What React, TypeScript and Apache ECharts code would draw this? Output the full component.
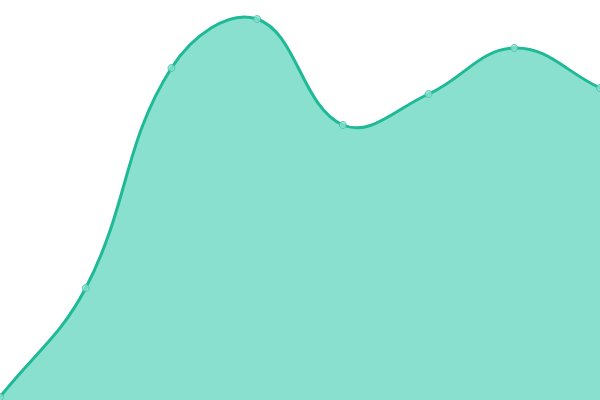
import React, { useEffect, useRef } from 'react';
import * as echarts from 'echarts';

const categories = ['A', 'B', 'C', 'D', 'E', 'F', 'G', 'H'];
const values = [3, 112, 332, 381, 275, 306, 352, 312];

const LINE_COLOR = '#1fb996';
const AREA_COLOR = '#89e0cf';
const TENSION = 0.4;

// spline through the points (control points not clamped, so the curve may overshoot)
function buildPaths(pts: number[][], bottom: number) {
  const cps = pts.map((cur, i) => {
    const prev = pts[i - 1] || cur;
    const next = pts[i + 1] || cur;
    const d01 = Math.hypot(cur[0] - prev[0], cur[1] - prev[1]);
    const d12 = Math.hypot(next[0] - cur[0], next[1] - cur[1]);
    const sum = d01 + d12 || 1;
    const fa = TENSION * (d01 / sum);
    const fb = TENSION * (d12 / sum);
    const vx = next[0] - prev[0];
    const vy = next[1] - prev[1];
    return {
      before: [cur[0] - fa * vx, cur[1] - fa * vy],
      after: [cur[0] + fb * vx, cur[1] + fb * vy],
    };
  });
  let line = `M${pts[0][0]},${pts[0][1]}`;
  for (let i = 1; i < pts.length; i++) {
    const a = cps[i - 1].after;
    const b = cps[i].before;
    line += ` C${a[0]},${a[1]} ${b[0]},${b[1]} ${pts[i][0]},${pts[i][1]}`;
  }
  const last = pts[pts.length - 1];
  const area = `${line} L${last[0]},${bottom} L${pts[0][0]},${bottom} Z`;
  return { line, area };
}

const App: React.FC = () => {
  const chartRef = useRef<HTMLDivElement>(null);

  useEffect(() => {
    document.body.style.margin = '0';
    if (!chartRef.current) return;
    const chart = echarts.init(chartRef.current, undefined, { renderer: 'svg' });

    const option: echarts.EChartsOption = {
      animation: false,
      grid: { left: 0, right: 0, top: 0, bottom: 0 },
      xAxis: {
        type: 'category',
        data: categories,
        boundaryGap: false,
        show: false,
      },
      yAxis: {
        type: 'value',
        min: 0,
        max: 400,
        show: false,
      },
      series: [
        {
          type: 'custom',
          data: values.map((v, i) => [i, v]),
          encode: { x: 0, y: 1 },
          z: 1,
          renderItem: (params: any, api: any) => {
            if (params.dataIndex !== 0) return null;
            const pts = values.map((v, i) => api.coord([i, v]));
            const bottom = api.coord([0, 0])[1];
            const { line, area } = buildPaths(pts, bottom);
            return {
              type: 'group',
              children: [
                {
                  type: 'path',
                  shape: { pathData: area },
                  style: { fill: AREA_COLOR, stroke: 'none' },
                },
                {
                  type: 'path',
                  shape: { pathData: line },
                  style: { fill: 'none', stroke: LINE_COLOR, lineWidth: 3 },
                },
              ],
            };
          },
        } as any,
        {
          type: 'scatter',
          data: values.map((v, i) => [i, v]),
          symbol: 'circle',
          symbolSize: 7,
          z: 2,
          itemStyle: { color: AREA_COLOR, borderColor: '#3dc2a3', borderWidth: 1 },
        },
      ],
    };

    chart.setOption(option);
    return () => {
      chart.dispose();
    };
  }, []);

  return <div ref={chartRef} style={{ width: 600, height: 400 }} />;
};

export default App;
